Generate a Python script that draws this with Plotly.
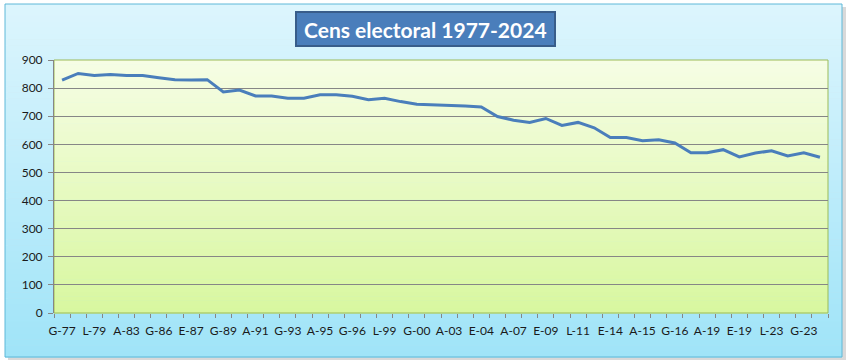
import plotly.graph_objects as go

# ---- data ----
categories = ["G-77", "G-79", "L-79", "G-82", "A-83", "L-83", "G-86", "L-87", "E-87", "E-89",
              "G-89", "L-91", "A-91", "R-92", "G-93", "E-94", "A-95", "L-95", "G-96", "A-99",
              "L-99", "E-99", "G-00", "L-03", "A-03", "G-04", "E-04", "L-07", "A-07", "G-08",
              "E-09", "A-11", "L-11", "G-11", "E-14", "L-15", "A-15", "G-15", "G-16", "G-19a",
              "A-19", "L-19", "E-19", "G-19n", "L-23", "A-23", "G-23", "E-24"]
cens = [828, 852, 845, 848, 845, 845, 837, 830, 829, 830,
        786, 793, 772, 772, 764, 764, 776, 776, 771, 759,
        764, 752, 743, 741, 740, 736, 733, 699, 686, 678,
        692, 667, 678, 659, 624, 624, 613, 616, 605, 570,
        570, 581, 555, 569, 577, 559, 570, 554]
tick_labels = categories[::2]
y_ticks = [0, 100, 200, 300, 400, 500, 600, 700, 800, 900]
title_text = "Cens electoral 1977-2024"

W, H = 849, 364
L, R, T, B = 54, 21, 60, 51
pw, ph = W - L - R, H - T - B


def px2paper_x(px):
    return (px - L) / pw


def px2paper_y(py):
    return (H - B - py) / ph


def lerp(c1, c2, t):
    return "rgb(%d,%d,%d)" % tuple(round(a + (b - a) * t) for a, b in zip(c1, c2))


shapes = []
# outer chart area shadow
shapes.append(dict(type="rect", xref="paper", yref="paper",
                   x0=px2paper_x(8), x1=px2paper_x(846), y0=px2paper_y(360), y1=px2paper_y(7),
                   fillcolor="rgba(170,170,170,0.45)", line=dict(width=0), layer="below"))
# outer gradient
N = 60
top_c, bot_c = (220, 245, 253), (160, 228, 248)
y_top, y_bot = 4, 357
for i in range(N):
    a = y_top + (y_bot - y_top) * i / N
    b = y_top + (y_bot - y_top) * (i + 1) / N
    shapes.append(dict(type="rect", xref="paper", yref="paper",
                       x0=px2paper_x(5), x1=px2paper_x(842),
                       y0=px2paper_y(b + 0.5), y1=px2paper_y(a),
                       fillcolor=lerp(top_c, bot_c, i / (N - 1)), line=dict(width=0), layer="below"))
shapes.append(dict(type="rect", xref="paper", yref="paper",
                   x0=px2paper_x(5), x1=px2paper_x(842), y0=px2paper_y(357), y1=px2paper_y(4),
                   fillcolor="rgba(0,0,0,0)", line=dict(color="#5fb8d8", width=1), layer="below"))
# plot area gradient
ptop, pbot = (246, 253, 228), (216, 247, 160)
for i in range(N):
    shapes.append(dict(type="rect", xref="paper", yref="paper",
                       x0=0, x1=1, y0=1 - (i + 1) / N - 0.002, y1=1 - i / N,
                       fillcolor=lerp(ptop, pbot, i / (N - 1)), line=dict(width=0), layer="below"))
shapes.append(dict(type="rect", xref="paper", yref="paper", x0=0, x1=1, y0=0, y1=1,
                   fillcolor="rgba(0,0,0,0)", line=dict(color="#9bbb59", width=1), layer="below"))
# title box
shapes.append(dict(type="rect", xref="paper", yref="paper",
                   x0=px2paper_x(296), x1=px2paper_x(555), y0=px2paper_y(46), y1=px2paper_y(12),
                   fillcolor="#4a7ebb", line=dict(color="#385d8a", width=2), layer="above"))

fig = go.Figure()
fig.add_trace(go.Scatter(x=list(range(len(categories))), y=cens, mode="lines",
                         line=dict(color="#4a7ebb", width=3), customdata=categories,
                         hovertemplate="%{customdata}: %{y}<extra></extra>"))

fig.update_layout(
    width=W, height=H, autosize=False,
    margin=dict(l=L, r=R, t=T, b=B, pad=0),
    paper_bgcolor="white", plot_bgcolor="rgba(0,0,0,0)",
    showlegend=False,
    shapes=shapes,
    font=dict(family="Lato, 'Open Sans', sans-serif", size=12, color="#1a1a1a"),
    annotations=[dict(text="<b>%s</b>" % title_text, xref="paper", yref="paper",
                      x=px2paper_x(425.5), y=px2paper_y(29.5), xanchor="center", yanchor="middle",
                      showarrow=False, font=dict(size=21, color="white",
                                                 family="Lato, 'Open Sans', sans-serif"))],
)
fig.update_xaxes(range=[-0.5, len(categories) - 0.5], tickmode="array",
                 tickvals=list(range(0, len(categories), 2)), ticktext=tick_labels,
                 showgrid=False, zeroline=False, showline=False,
                 ticks="", tickangle=0, tickfont=dict(size=12), ticklabelstandoff=9)
# minor ticks at category boundaries
fig.update_xaxes(minor=dict(tickmode="array", tickvals=[i + 0.5 for i in range(-1, len(categories))],
                            ticks="outside", ticklen=4, tickcolor="#868686", showgrid=False))
fig.update_yaxes(range=[0, 900], tickmode="array", tickvals=y_ticks,
                 showgrid=True, gridcolor="#868686", gridwidth=1, zeroline=False,
                 showline=True, linecolor="#868686", ticks="outside", ticklen=5, tickcolor="#868686",
                 tickfont=dict(size=12), ticklabelstandoff=3)
fig.write_html("out.html", config={"displayModeBar": False},
               post_script="document.body.style.margin='0';")
